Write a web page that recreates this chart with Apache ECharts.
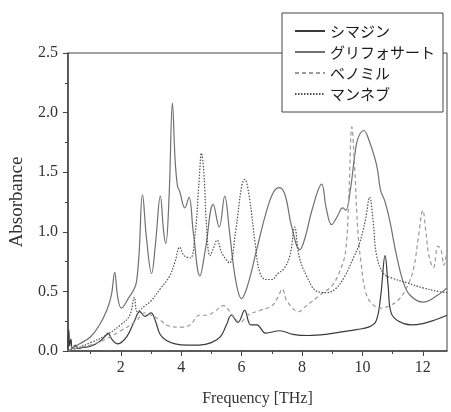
<!DOCTYPE html>
<html>
<head>
<meta charset="utf-8">
<title>Absorbance spectra</title>
<script src="https://cdn.jsdelivr.net/npm/echarts@6/dist/echarts.min.js"></script>
<style>
  html, body { margin: 0; padding: 0; background: #fff; }
  #chart { width: 451px; height: 412px; }
</style>
</head>
<body>
<div id="chart"></div>
<script>
// series names (legend order)
var seriesNames = ['シマジン', 'グリフォサート', 'ベノミル', 'マンネブ'];

// シマジン
var simazineFreq = [0.25,0.28,0.31,0.35,0.4,0.5,0.6,0.75,1.0,1.3,1.5,1.58,1.7,1.9,2.2,2.45,2.63,2.8,3.0,3.15,3.3,3.5,3.8,4.2,4.6,5.0,5.3,5.5,5.66,5.88,6.1,6.3,6.5,6.8,7.26,7.7,8.2,8.8,9.3,9.8,10.2,10.45,10.6,10.75,10.85,10.95,11.2,11.6,12.0,12.4,12.8];
var simazineAbs  = [0.02,0.18,0.04,0.1,0.02,0.05,0.02,0.03,0.04,0.08,0.13,0.15,0.1,0.06,0.12,0.25,0.33,0.29,0.32,0.25,0.14,0.09,0.06,0.05,0.05,0.07,0.12,0.22,0.3,0.24,0.34,0.22,0.22,0.15,0.17,0.14,0.13,0.14,0.16,0.18,0.2,0.25,0.45,0.8,0.55,0.32,0.25,0.22,0.23,0.26,0.3];

// グリフォサート
var glyphosateFreq = [0.25,0.64,1.0,1.3,1.55,1.69,1.8,1.9,2.02,2.2,2.52,2.72,2.85,3.02,3.15,3.31,3.42,3.49,3.6,3.71,3.8,3.88,3.95,4.12,4.26,4.4,4.62,4.8,5.06,5.26,5.44,5.6,5.8,6.0,6.2,6.5,6.8,7.05,7.26,7.45,7.65,7.93,8.1,8.35,8.65,8.8,8.98,9.15,9.35,9.45,9.6,9.75,9.86,10.05,10.2,10.47,10.6,10.74,10.9,11.13,11.35,11.57,12.0,12.5,12.8];
var glyphosateAbs  = [0.0,0.06,0.12,0.22,0.35,0.47,0.66,0.45,0.36,0.42,0.58,1.31,0.95,0.65,0.9,1.3,1.0,0.9,1.3,2.08,1.6,1.38,1.34,1.2,1.29,1.0,0.63,0.85,1.23,1.04,1.3,1.0,0.6,0.44,0.55,0.85,1.15,1.33,1.37,1.3,1.05,0.85,0.95,1.2,1.4,1.2,1.06,1.12,1.2,1.18,1.35,1.65,1.79,1.85,1.78,1.56,1.35,1.26,1.1,0.8,0.58,0.47,0.41,0.47,0.53];

// ベノミル
var benomylFreq = [0.25,0.5,1.0,1.5,2.0,2.5,2.8,3.0,3.3,3.6,4.0,4.3,4.6,4.85,5.1,5.4,5.7,5.95,6.2,6.6,7.0,7.2,7.35,7.5,7.9,8.1,8.6,9.0,9.3,9.45,9.55,9.65,9.75,9.85,9.95,10.1,10.3,10.6,10.9,11.2,11.5,11.7,11.85,12.0,12.1,12.2,12.35,12.5,12.6,12.7,12.8];
var benomylAbs  = [0,0.02,0.05,0.1,0.17,0.25,0.32,0.3,0.26,0.21,0.2,0.22,0.3,0.3,0.33,0.38,0.3,0.24,0.3,0.34,0.38,0.45,0.52,0.42,0.33,0.37,0.47,0.55,0.7,0.85,1.3,1.88,1.5,1.0,0.75,0.5,0.4,0.36,0.38,0.43,0.55,0.7,0.95,1.18,1.0,0.8,0.7,0.88,0.85,0.72,0.85];

// マンネブ
var manebFreq = [0.25,0.5,1.0,1.5,2.0,2.3,2.45,2.55,2.8,3.0,3.3,3.6,3.8,3.95,4.1,4.3,4.45,4.6,4.67,4.75,4.85,4.95,5.05,5.19,5.35,5.6,5.8,6.0,6.1,6.25,6.45,6.6,6.8,7.0,7.2,7.4,7.6,7.76,7.9,8.15,8.5,8.8,9.1,9.4,9.7,9.9,10.1,10.24,10.35,10.47,10.7,11.0,11.5,12.0,12.5,12.8];
var manebAbs  = [0,0.02,0.07,0.13,0.22,0.3,0.45,0.33,0.38,0.42,0.52,0.62,0.75,0.87,0.8,0.78,0.95,1.45,1.66,1.5,1.0,0.8,0.85,0.93,0.82,0.74,1.0,1.38,1.44,1.3,0.9,0.66,0.6,0.6,0.65,0.69,0.8,1.04,0.8,0.63,0.5,0.49,0.52,0.62,0.78,0.9,1.1,1.29,1.1,0.8,0.65,0.61,0.57,0.53,0.5,0.49];

// tick labels
var xMajorTicks = [2, 4, 6, 8, 10, 12];
var xMinorTicks = [1, 3, 5, 7, 9, 11];

function zip(xs, ys) {
    var out = [];
    for (var i = 0; i < xs.length; i++) out.push([xs[i], ys[i]]);
    return out;
}

var serif = 'Liberation Serif';
var axisColor = '#444';

function lineSeries(name, xs, ys, color, type) {
    return {
        name: name,
        type: 'line',
        xAxisIndex: 0,
        data: zip(xs, ys),
        symbol: 'none',
        smooth: 0.4,
        lineStyle: { color: color, width: 1.2, type: type },
        itemStyle: { color: color }
    };
}

var chart = echarts.init(document.getElementById('chart'));
chart.setOption({
    animation: false,
    backgroundColor: '#fff',
    grid: {
        left: 67, right: 4, top: 53, bottom: 55,
        show: true, borderColor: axisColor, borderWidth: 1,
        backgroundColor: 'transparent'
    },
    legend: {
        orient: 'vertical',
        left: 282, top: 13,
        padding: [10, 8, 10, 12],
        itemGap: 5,
        itemWidth: 30, itemHeight: 14,
        backgroundColor: '#fff',
        borderColor: axisColor, borderWidth: 1, borderRadius: 0,
        data: seriesNames,
        itemStyle: { opacity: 0 },
        textStyle: { fontFamily: 'Noto Sans CJK JP', fontSize: 15, color: '#1a1a1a', lineHeight: 16 }
    },
    xAxis: [{
        type: 'value',
        min: 0.25, max: 12.8,
        name: 'Frequency [THz]',
        nameLocation: 'middle',
        nameGap: 40,
        nameTextStyle: { fontFamily: serif, fontSize: 16, color: '#333' },
        axisLine: { show: true, lineStyle: { color: axisColor, width: 1.5 } },
        axisTick: { show: true, customValues: xMajorTicks, length: 5, lineStyle: { color: axisColor } },
        axisLabel: { customValues: xMajorTicks, margin: 9, fontFamily: serif, fontSize: 16, color: '#333' },
        splitLine: { show: false }
    }, {
        type: 'value',
        gridIndex: 0,
        position: 'bottom',
        min: 0.25, max: 12.8,
        axisLine: { show: false },
        axisTick: { show: true, customValues: xMinorTicks, length: 3, lineStyle: { color: axisColor } },
        axisLabel: { show: false },
        splitLine: { show: false }
    }],
    yAxis: {
        type: 'value',
        min: 0, max: 2.5, interval: 0.5,
        name: 'Absorbance',
        nameLocation: 'middle',
        nameGap: 40,
        nameTextStyle: { fontFamily: serif, fontSize: 19, color: '#333' },
        axisLine: { show: true, lineStyle: { color: axisColor, width: 1.5 } },
        axisTick: { show: true, length: 5, lineStyle: { color: axisColor } },
        minorTick: { show: true, splitNumber: 2, length: 3, lineStyle: { color: axisColor } },
        axisLabel: {
            margin: 10, fontFamily: serif, fontSize: 16, color: '#333',
            formatter: function (v) { return v.toFixed(1); }
        },
        splitLine: { show: false }
    },
    series: [
        lineSeries(seriesNames[0], simazineFreq, simazineAbs, '#3a3a3a', 'solid'),
        lineSeries(seriesNames[1], glyphosateFreq, glyphosateAbs, '#707070', 'solid'),
        lineSeries(seriesNames[2], benomylFreq, benomylAbs, '#9a9a9a', [4, 3]),
        lineSeries(seriesNames[3], manebFreq, manebAbs, '#505050', [1.5, 1.5])
    ]
});
</script>
</body>
</html>
